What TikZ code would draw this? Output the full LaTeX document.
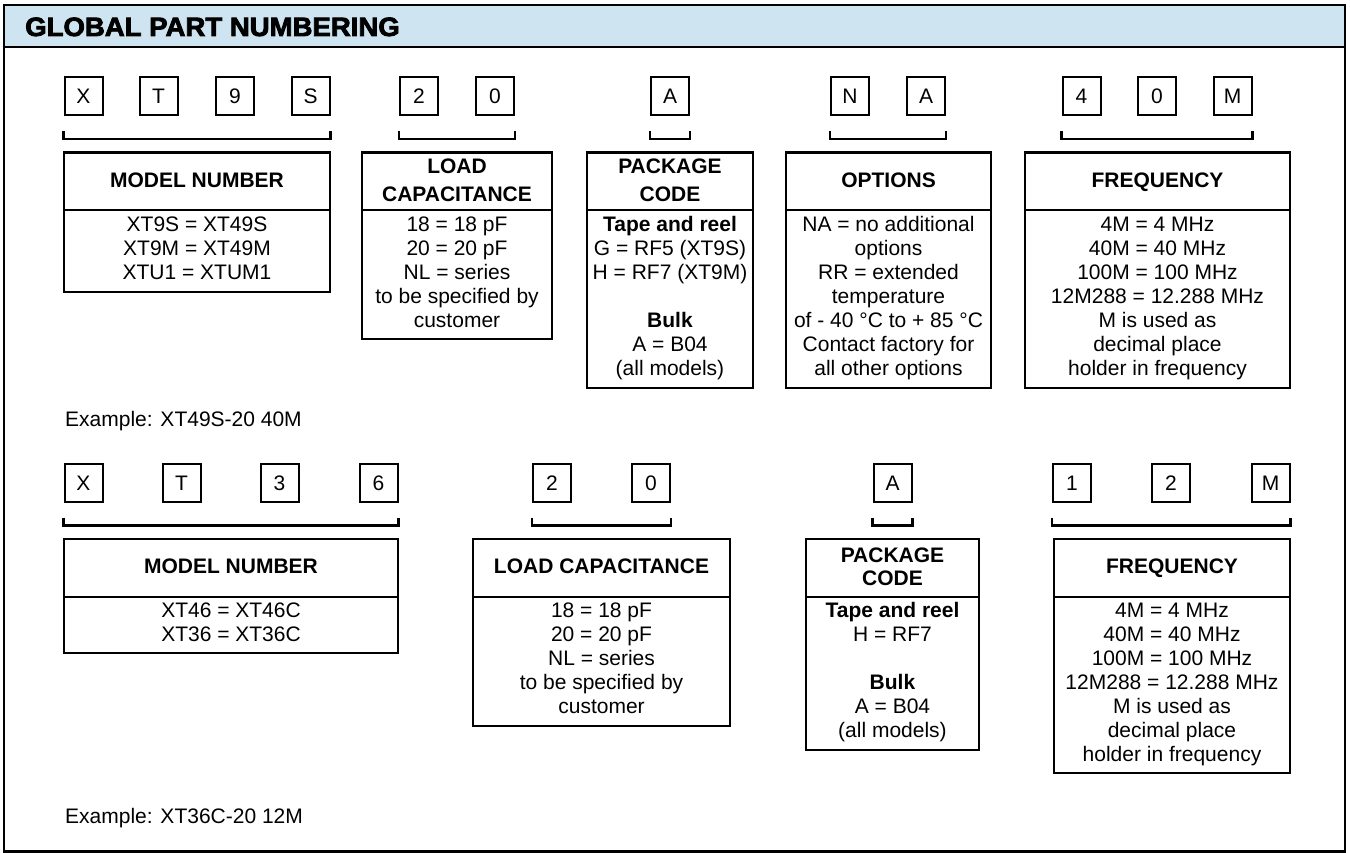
\documentclass[tikz,border=0pt]{standalone}
\usepackage{fontspec}
\setmainfont{Liberation Sans}
\newfontfamily\titlefont{Liberation Sans Bold}[FakeBold=3,FakeStretch=1.04]
\usetikzlibrary{calc}
\definecolor{hdrblue}{RGB}{206,228,241}
\newcommand{\infobox}[9]{%
  \draw[boxline] (#2,#4) rectangle (#3,#6);
  \draw[boxline] (#2,#5) -- (#3,#5);
  \node[hdr, font=\bfseries\fontsize{21}{#7}\selectfont] (#1-title) at ({(#2+#3)/2},{(#4+#5)/2-1.5}) {#8};
  \node[bodytext] (#1-body) at ({(#2+#3)/2},{#5+4}) {\rule{0pt}{17pt}#9};
}
\newcommand{\brkt}[2]{%
  \draw[bracketline] ($(#1.south west)+(0,15)$) -- ($(#1.south west)+(0,23)$) -| ($(#2.south east)+(0,15)$);
}
\begin{document}
\begin{tikzpicture}[x=1pt,y=-1pt,
  frame/.style={line width=2.2pt},
  boxline/.style={line width=2.2pt},
  bracketline/.style={line width=2.2pt},
  charbox/.style={draw, line width=2pt, minimum width=38pt, minimum height=38pt, inner sep=0pt,
     text height=15.2pt, text depth=0pt, font=\fontsize{21}{24}\selectfont},
  hdr/.style={anchor=center, align=center, inner sep=0pt, text depth=0pt},
  bodytext/.style={anchor=north, align=center, inner sep=0pt, font=\fontsize{21}{24}\selectfont},
  plain/.style={anchor=base west, inner sep=0pt, font=\fontsize{21}{24}\selectfont}]
\useasboundingbox (0,0) rectangle (1350,853);
% frame and header
\draw[frame, fill=hdrblue] (4,5) rectangle (1345,46.7);
\draw[frame] (4,5) rectangle (1345,851.5);
\node[anchor=base west, inner sep=0pt, font=\titlefont\fontsize{26.5}{30}\selectfont] (title) at (25,36) {GLOBAL PART NUMBERING};
% ---------- row 1 characters
\node[charbox] (a1) at (83.5,96) {X};
\node[charbox] (a2) at (158.5,96) {T};
\node[charbox] (a3) at (235,96) {9};
\node[charbox] (a4) at (310.5,96) {S};
\node[charbox] (a5) at (419,96) {2};
\node[charbox] (a6) at (495,96) {0};
\node[charbox] (a7) at (670,96) {A};
\node[charbox] (a8) at (850,96) {N};
\node[charbox] (a9) at (926,96) {A};
\node[charbox] (a10) at (1081.5,96) {4};
\node[charbox] (a11) at (1157,96) {0};
\node[charbox] (a12) at (1232.5,96) {M};
\brkt{a1}{a4}
\brkt{a5}{a6}
\brkt{a7}{a7}
\brkt{a8}{a9}
\brkt{a10}{a12}
% ---------- row 1 boxes
\infobox{m1}{64}{330}{152.5}{210}{292}{28}{MODEL NUMBER}{XT9S = XT49S\\XT9M = XT49M\\XTU1 = XTUM1}
\infobox{l1}{362}{552}{152.5}{210}{339}{28}{LOAD\\CAPACITANCE}{18 = 18 pF\\20 = 20 pF\\NL = series\\to be specified by\\customer}
\infobox{p1}{587}{753}{152.5}{210}{387.7}{28}{PACKAGE\\CODE}{\textbf{Tape and reel}\\G = RF5 (XT9S)\\H = RF7 (XT9M)\\[24pt]\textbf{Bulk}\\A = B04\\(all models)}
\infobox{o1}{786}{991}{152.5}{210}{387.7}{28}{OPTIONS}{NA = no additional\\options\\RR = extended\\temperature\\of - 40 °C to + 85 °C\\Contact factory for\\all other options}
\infobox{f1}{1025}{1290}{152.5}{210}{387.7}{28}{FREQUENCY}{4M = 4 MHz\\40M = 40 MHz\\100M = 100 MHz\\12M288 = 12.288 MHz\\M is used as\\decimal place\\holder in frequency}
\node[plain] (ex1) at (65,426) {Example: XT49S-20 40M};
% ---------- row 2 characters
\node[charbox] (b1) at (83.5,482.5) {X};
\node[charbox] (b2) at (181.5,482.5) {T};
\node[charbox] (b3) at (279.5,482.5) {3};
\node[charbox] (b4) at (378.5,482.5) {6};
\node[charbox] (b5) at (552,482.5) {2};
\node[charbox] (b6) at (651,482.5) {0};
\node[charbox] (b7) at (892.5,482.5) {A};
\node[charbox] (b8) at (1072,482.5) {1};
\node[charbox] (b9) at (1171,482.5) {2};
\node[charbox] (b10) at (1270.5,482.5) {M};
\brkt{b1}{b4}
\brkt{b5}{b6}
\brkt{b7}{b7}
\brkt{b8}{b10}
% ---------- row 2 boxes
\infobox{m2}{64}{398}{539}{596.7}{653.3}{23}{MODEL NUMBER}{XT46 = XT46C\\XT36 = XT36C}
\infobox{l2}{473}{730}{539}{596.7}{726}{23}{LOAD CAPACITANCE}{18 = 18 pF\\20 = 20 pF\\NL = series\\to be specified by\\customer}
\infobox{p2}{806}{979}{539}{596.7}{750}{23}{PACKAGE\\CODE}{\textbf{Tape and reel}\\H = RF7\\[24pt]\textbf{Bulk}\\A = B04\\(all models)}
\infobox{f2}{1054}{1290}{539}{596.7}{773.3}{23}{FREQUENCY}{4M = 4 MHz\\40M = 40 MHz\\100M = 100 MHz\\12M288 = 12.288 MHz\\M is used as\\decimal place\\holder in frequency}
\node[plain] (ex2) at (65,823) {Example: XT36C-20 12M};
\end{tikzpicture}
\end{document}
